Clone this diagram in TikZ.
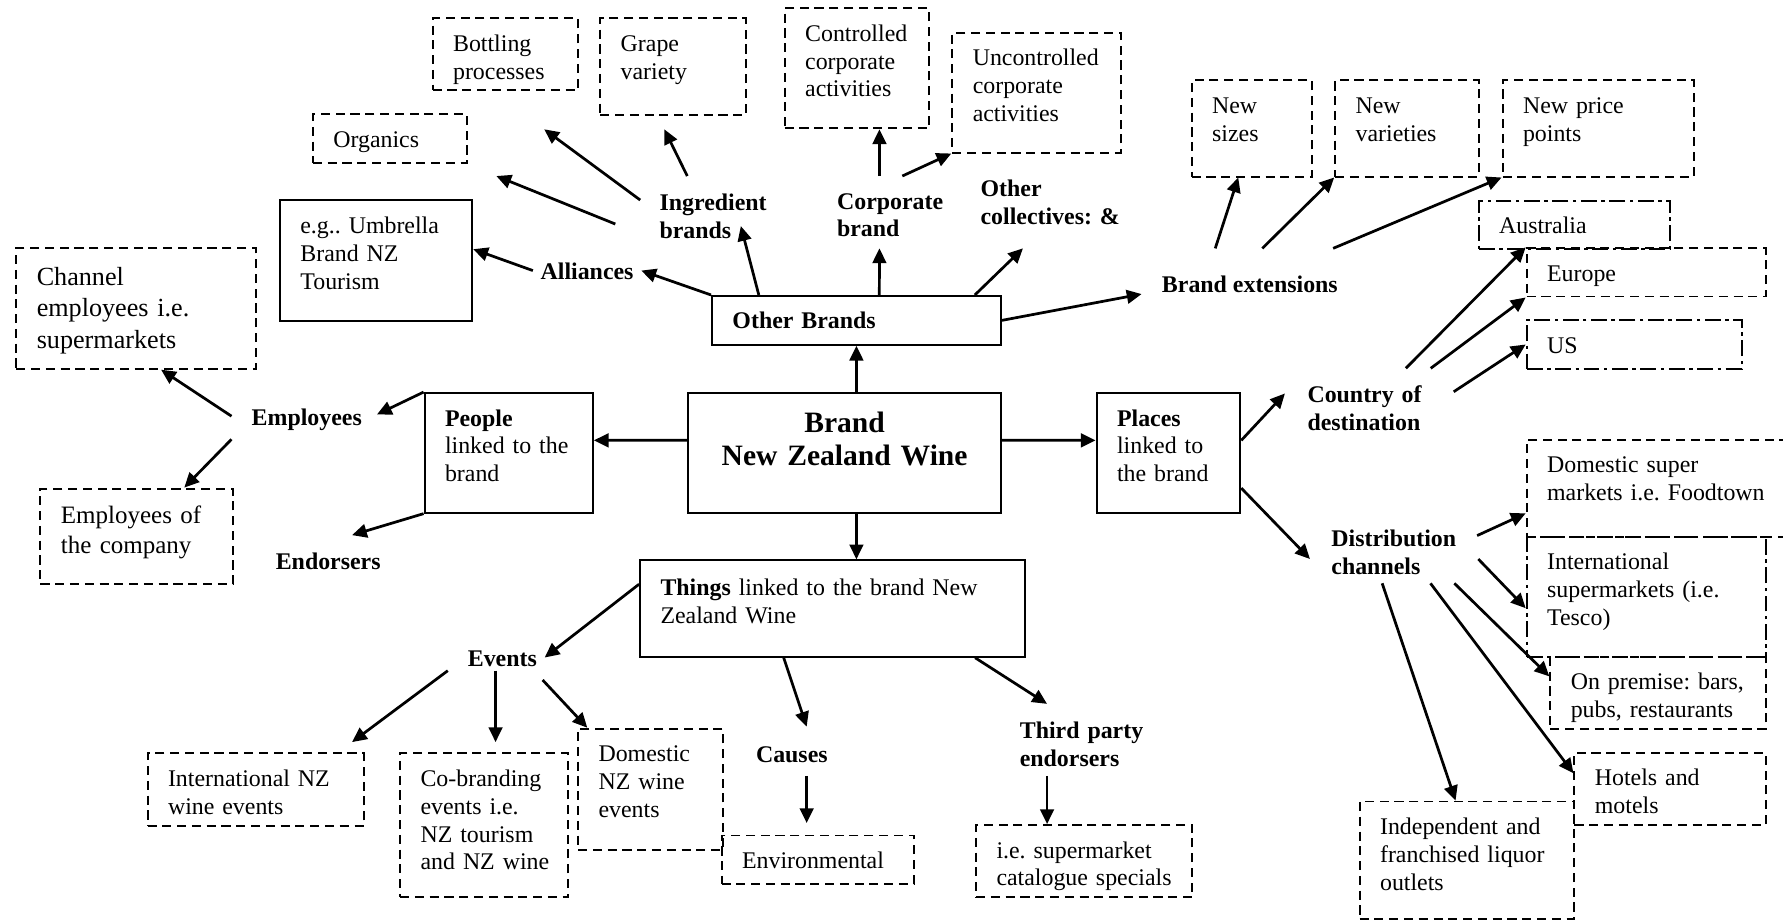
\documentclass[tikz,border=0pt]{standalone}
\usepackage{fontspec}
\setmainfont{Liberation Serif}
\usetikzlibrary{arrows.meta}
\hyphenpenalty=10000
\exhyphenpenalty=10000
\frenchspacing

\tikzset{every picture/.style={line width=0.85pt}}
\tikzset{
  box/.style={draw, anchor=north west, align=left, inner xsep=9pt, inner ysep=6.5pt,
    text height=8pt, font=\fontsize{10.5}{12.25}\selectfont},
  dbox/.style={box, dash pattern=on 4pt off 2.5pt},
  ddbox/.style={box, dash pattern=on 7pt off 2pt on 1.5pt off 2pt},
  lbl/.style={anchor=north west, align=left, inner sep=3pt, text height=8pt,
    font=\fontsize{10.5}{12.25}\selectfont\bfseries},
  lbl2/.style={lbl, text width=80pt},
  arr/.style={-{Triangle[length=6.5pt,width=6pt]}, line width=1.2pt},
}

\begin{document}
\frenchspacing
\begin{tikzpicture}[x=0.5pt,y=0.5pt,yscale=-1,xscale=1]
	\useasboundingbox (0,0) rectangle (1568,809);
	
	% Main boxes
	\node[box, align=center, text width=119.5pt, text height=10.7pt, text depth=28.9pt, font=\fontsize{13}{14.85}\selectfont\bfseries] (bnz) at (604.4,344.8) {Brand\\New Zealand Wine};
	\node[box, text width=109pt, text depth=0.5pt] (obr) at (625.3,259.4) {\textbf{Other Brands}};
	\node[box, text width=56pt, text depth=31.6pt] (ppl) at (372.5,344.8) {\textbf{People}\\linked to the\\brand};
	\node[box, text width=45.2pt, text depth=31.6pt] (plc) at (963.5,344.8) {\textbf{Places}\\linked to\\the brand};
	\node[box, text width=151.3pt, text height=9pt, text depth=20.4pt] (thg) at (562,491.9) {\textbf{Things} linked to the brand New\\Zealand Wine};
	\node[box, text width=66.6pt, text depth=32pt] (umb) at (245.3,175.3) {e.g.. Umbrella\\Brand NZ\\Tourism};
	
	% Other brands
	\node[dbox, text width=45.8pt, text depth=10.7pt] (bot) at (379.6,15.2) {Bottling\\processes};
	\node[dbox, text width=46pt, text depth=21.5pt] (grp) at (527,15.2) {Grape\\variety};
	\node[dbox, text width=45.4pt, text depth=31.8pt] (ctl) at (689.2,6.4) {Controlled\\corporate\\activities};
	\node[dbox, text width=56pt, text depth=31.7pt] (unc) at (836.6,27.9) {Uncontrolled\\corporate\\activities};
	\node[dbox, text width=49.8pt, text depth=0.4pt] (org) at (274.3,99.7) {Organics};
	\node[dbox, text width=35pt, text depth=21.3pt] (nsz) at (1047.1,69.8) {New\\sizes};
	\node[dbox, text width=45.1pt, text depth=21.3pt] (nvr) at (1173.3,69.8) {New\\varieties};
	\node[dbox, text width=66.1pt, text depth=21.3pt] (npp) at (1320.5,69.8) {New price\\points};
	
	% Places
	\node[ddbox, text width=66.2pt, text depth=0pt] (aus) at (1299.5,175.9) {Australia};
	\node[dbox, text width=87.1pt, text depth=0.2pt] (eur) at (1341.7,217.5) {Europe};
	\node[ddbox, text width=76.5pt, text depth=0.3pt] (us) at (1341.7,280.8) {US};
	\node[dbox, text width=99.5pt, text depth=21.6pt] (dsm) at (1341.7,386) {Domestic super\\markets i.e.~Foodtown};
	\node[ddbox, text width=87.1pt, text depth=31.7pt] (ism) at (1341.7,471.3) {International\\supermarkets (i.e.\\Tesco)};
	\node[dbox, text width=76.7pt, text depth=10.6pt] (onp) at (1362.5,576.8) {On~premise:~bars,\\pubs,~restaurants};
	\node[dbox, text width=66.1pt, text depth=10.8pt] (htl) at (1383.7,661) {Hotels and\\motels};
	\node[dbox, text width=76.4pt, text depth=30.5pt] (ind) at (1194.8,704) {Independent~and\\franchised~liquor\\outlets};
	
	% People
	\node[dbox, text width=87.3pt, text height=9.75pt, text depth=30.2pt, font=\fontsize{11.5}{13.9}\selectfont] (chn) at (13.5,217.5) {Channel\\employees i.e.\\supermarkets};
	\node[dbox, text width=66.5pt, text height=8.7pt, text depth=20.4pt, font=\fontsize{11}{13.5}\selectfont] (eoc) at (34.7,428.8) {Employees~of\\the~company};
	
	% Things
	\node[dbox, text width=77pt, text depth=10.9pt] (inz) at (128.9,661.7) {International~NZ\\wine events};
	\node[dbox, text width=56pt, text depth=42.2pt] (cob) at (351,661.7) {Co-branding\\events i.e.\\NZ~tourism\\and~NZ~wine};
	\node[dbox, text width=45.6pt, text depth=32.3pt] (dnz) at (507.5,640) {Domestic\\NZ wine\\events};
	\node[dbox, text width=66.5pt, text depth=0.2pt] (env) at (633.7,733.9) {Environmental};
	\node[dbox, text width=77.1pt, text depth=10.7pt] (cat) at (857.5,724.7) {i.e.~supermarket\\catalogue~specials};
	
	% Text Nodes
	\node[lbl2] (ing) at (573.2,162.4) {Ingredient\\brands};
	\node[lbl2] (cor) at (729.3,161) {Corporate\\brand};
	\node[lbl2] (oth) at (855.5,150) {Other\\collectives: \&};
	\node[lbl] (all) at (468.6,223) {Alliances};
	\node[lbl] (bex) at (1015,234) {Brand extensions};
	\node[lbl] (emp) at (214.5,351) {Employees};
	\node[lbl] (end) at (235.7,478.4) {Endorsers};
	\node[lbl2] (cod) at (1143,331) {Country of\\destination};
	\node[lbl2] (dch) at (1164,458) {Distribution\\channels};
	\node[lbl] (evt) at (404.6,563.3) {Events};
	\node[lbl] (cau) at (658,648) {Causes};
	\node[lbl2] (tpe) at (890,627) {Third party\\endorsers};
	
	% Arrow ends
	\coordinate (ing-in) at (651.5,198.8);
	\coordinate (cor-in) at (773.4,218.4);
	\coordinate (oth-in) at (899.6,218.4);
	\coordinate (bex-in) at (1003.9,258.6);
	\coordinate (ing-org) at (541.1,197);
	\coordinate (org-tip) at (436.5,154.8);
	\coordinate (ing-bot) at (563,175.9);
	\coordinate (bot-tip) at (478.6,113.7);
	\coordinate (ing-grp) at (604.4,154.8);
	\coordinate (grp-tip) at (584.2,113.7);
	\coordinate (cor-ctl) at (773.4,154.8);
	\coordinate (cor-unc) at (793.5,154.8);
	\coordinate (bex-nsz) at (1068.7,218.4);
	\coordinate (bex-nvr) at (1110.1,218.4);
	\coordinate (bex-npp) at (1172.4,218.4);
	\coordinate (cod-in) at (1130,346);
	\coordinate (dch-in) at (1152,491.6);
	\coordinate (cod-aus) at (1236.3,323.9);
	\coordinate (cod-eur) at (1258.2,323.9);
	\coordinate (cod-us) at (1278.4,344.5);
	\coordinate (dch-dsm) at (1299,471);
	\coordinate (dch-ism) at (1300,491.6);
	\coordinate (dch-onp) at (1279,513);
	\coordinate (dch-htl) at (1258,513);
	\coordinate (dch-ind) at (1215.5,513);
	\coordinate (emp-in) at (331.5,364.5);
	\coordinate (end-in) at (309.6,470.6);
	\coordinate (emp-chn) at (203.6,366);
	\coordinate (emp-eoc) at (203.6,386.3);
	\coordinate (evt-inz) at (393.8,589.8);
	\coordinate (inz-tip) at (309.6,652.6);
	\coordinate (evt-cob) at (435.8,589.8);
	\coordinate (cob-tip) at (435.8,652.6);
	\coordinate (evt-dnz) at (477.2,598);
	\coordinate (cau-in) at (709.4,639);
	\coordinate (cau-env) at (709.4,682.4);
	\coordinate (env-tip) at (709.4,723.8);
	\coordinate (tpe-in) at (920.8,619);
	\coordinate (tpe-cat) at (920.8,682.4);
	
	% Arrows from the brand
	\draw[arr] (obr.south |- bnz.north) -- (obr.south);
	\draw[arr] ([yshift=-5.5pt]bnz.west) -- ([yshift=-5.5pt]ppl.east);
	\draw[arr] ([yshift=-5.5pt]bnz.east) -- ([yshift=-5.5pt]plc.west);
	\draw[arr] (obr.south |- bnz.south) -- (obr.south |- thg.north);
	
	% Arrows of other brands
	\draw[arr] (obr.north west) -- (all.east);
	\draw[arr] ([xshift=21pt]obr.north west) -- (ing-in);
	\draw[arr] ([xshift=74pt]obr.north west) -- (cor-in);
	\draw[arr] ([xshift=116pt]obr.north west) -- (oth-in);
	\draw[arr] (obr.east) -- (bex-in);
	\draw[arr] (all.west) -- ([yshift=-5pt]umb.east);
	\draw[arr] (ing-org) -- (org-tip);
	\draw[arr] (ing-bot) -- (bot-tip);
	\draw[arr] (ing-grp) -- (grp-tip);
	\draw[arr] (cor-ctl) -- (cor-ctl |- ctl.south);
	\draw[arr] (cor-unc) -- (unc.south west);
	\draw[arr] (bex-nsz) -- ([xshift=-6pt]nsz.south);
	\draw[arr] (bex-nvr) -- (nvr.south west);
	\draw[arr] (bex-npp) -- (npp.south west);
	
	% Arrows of places
	\draw[arr] ([yshift=-5.5pt]plc.east) -- (cod-in);
	\draw[arr] ([yshift=15.5pt]plc.east) -- (dch-in);
	\draw[arr] (cod-aus) -- (eur.north west);
	\draw[arr] (cod-eur) -- (eur.south west);
	\draw[arr] (cod-us) -- (us.west);
	\draw[arr] (dch-dsm) -- ([yshift=11pt]dsm.west);
	\draw[arr] (dch-ism) -- ([yshift=5pt]ism.west);
	\draw[arr] (dch-onp) -- ([yshift=9pt]onp.north west);
	\draw[arr] (dch-htl) -- ([yshift=9.5pt]htl.north west);
	\draw[arr] (dch-ind) -- ([xshift=-5pt]ind.north);
	
	% Arrows of people
	\draw[arr] (ppl.north west) -- (emp-in);
	\draw[arr] (ppl.south west) -- (end-in);
	\draw[arr] (emp-chn) -- ([xshift=11pt]chn.south);
	\draw[arr] (emp-eoc) -- ([xshift=21pt]eoc.north);
	
	% Arrows of things
	\draw[arr] ([yshift=-10.7pt]thg.west) -- (evt.east);
	\draw[arr] (evt-inz) -- (inz-tip);
	\draw[arr] (evt-cob) -- (cob-tip);
	\draw[arr] (evt-dnz) -- ([xshift=4.5pt]dnz.north west);
	\draw[arr] ([xshift=63.6pt]thg.south west) -- (cau-in);
	\draw[arr] (cau-env) -- (env-tip);
	\draw[arr] ([xshift=147.75pt]thg.south west) -- (tpe-in);
	\draw[arr] (tpe-cat) -- (tpe-cat |- cat.north);
	
\end{tikzpicture}
\end{document}
